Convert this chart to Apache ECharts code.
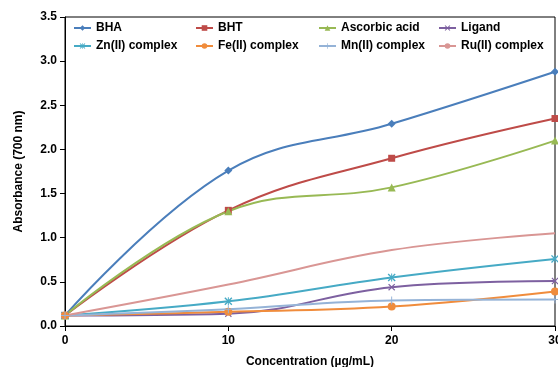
<!DOCTYPE html>
<html>
<head>
<meta charset="utf-8">
<script src="https://cdn.jsdelivr.net/npm/echarts@6/dist/echarts.min.js"></script>
<style>
  html, body { margin: 0; padding: 0; background: #fff; }
  #chart { width: 558px; height: 367px; }
</style>
</head>
<body>
<div id="chart"></div>
<script>
// concentrations (µg/mL)
const concentrations = [0, 10, 20, 30];
const yTicks = [0, 0.5, 1.0, 1.5, 2.0, 2.5, 3.0, 3.5];

// absorbance at 700 nm
const bha = [0.12, 1.76, 2.29, 2.88];
const bht = [0.12, 1.31, 1.90, 2.35];
const ascorbic = [0.12, 1.30, 1.57, 2.10];
const ligand = [0.12, 0.14, 0.44, 0.51];
const znComplex = [0.12, 0.28, 0.55, 0.76];
const feComplex = [0.12, 0.16, 0.22, 0.39];
const mnComplex = [0.12, 0.19, 0.29, 0.30];
const ruComplex = [0.12, 0.47, 0.86, 1.05];

const FONT = '"Liberation Sans", Arial, sans-serif';

// marker shapes
const xMark = 'path://M0,1.2L1.2,0L5,3.8L8.8,0L10,1.2L6.2,5L10,8.8L8.8,10L5,6.2L1.2,10L0,8.8L3.8,5Z';
const starMark = 'path://M0,1.2L1.2,0L4.4,3.2V0H5.6V3.2L8.8,0L10,1.2L6.2,5L10,8.8L8.8,10L5.6,6.8V10H4.4V6.8L1.2,10L0,8.8L3.8,5Z';
const plusMark = 'path://M4.4,0H5.6V4.4H10V5.6H5.6V10H4.4V5.6H0V4.4H4.4Z';

const seriesDefs = [
  { name: 'BHA', data: bha, color: '#4A7EBB', symbol: 'diamond', size: 8 },
  { name: 'BHT', data: bht, color: '#BE4B48', symbol: 'rect', size: 7 },
  { name: 'Ascorbic acid', data: ascorbic, color: '#98B954', symbol: 'triangle', size: 8 },
  { name: 'Ligand', data: ligand, color: '#7D60A0', symbol: xMark, size: 7 },
  { name: 'Zn(II) complex', data: znComplex, color: '#46AAC5', symbol: starMark, size: 8 },
  { name: 'Fe(II) complex', data: feComplex, color: '#F08C3C', symbol: 'circle', size: 8 },
  { name: 'Mn(II) complex', data: mnComplex, color: '#95B3D7', symbol: plusMark, size: 8 },
  { name: 'Ru(II) complex', data: ruComplex, color: '#D99694', symbol: 'none', size: 0 }
];

// legend slots: 4 columns x 2 rows
const legendCols = [73, 195, 318, 438];
const legendRows = [22, 40];

const chart = echarts.init(document.getElementById('chart'));

const option = {
  animation: false,
  backgroundColor: '#fff',
  grid: {
    left: 65, right: 3, top: 17, bottom: 41,
    outerBoundsMode: 'none',
    containLabel: false,
    show: true, borderColor: '#000', borderWidth: 1
  },
  legend: seriesDefs.map((s, i) => ({
    left: legendCols[i % 4],
    top: legendRows[Math.floor(i / 4)],
    padding: 0,
    itemWidth: 17,
    itemHeight: 7,
    itemGap: 0,
    selectedMode: false,
    data: [s.name],
    textStyle: { fontFamily: FONT, fontWeight: 'bold', fontSize: 12, color: '#000' }
  })),
  xAxis: {
    type: 'value',
    min: 0, max: 30, interval: 10,
    name: 'Concentration (µg/mL)',
    nameLocation: 'middle',
    nameGap: 30,
    nameTextStyle: { fontFamily: FONT, fontWeight: 'bold', fontSize: 12, color: '#000' },
    axisLine: { lineStyle: { color: '#000', width: 1 } },
    axisTick: { show: true, length: 5, lineStyle: { color: '#000' } },
    axisLabel: { fontFamily: FONT, fontWeight: 'bold', fontSize: 12, color: '#000', margin: 9 },
    splitLine: { show: false }
  },
  yAxis: {
    type: 'value',
    min: 0, max: 3.5, interval: 0.5,
    name: 'Absorbance (700 nm)',
    nameLocation: 'middle',
    nameGap: 40,
    nameTextStyle: { fontFamily: FONT, fontWeight: 'bold', fontSize: 12, color: '#000' },
    axisLine: { show: true, lineStyle: { color: '#000', width: 1 } },
    axisTick: { show: true, length: 5, lineStyle: { color: '#000' } },
    axisLabel: {
      fontFamily: FONT, fontWeight: 'bold', fontSize: 12, color: '#000', margin: 8,
      formatter: v => yTicks.includes(v) ? v.toFixed(1) : ''
    },
    splitLine: { show: false }
  },
  series: seriesDefs.map(s => ({
    name: s.name,
    type: 'line',
    smooth: 0.4,
    data: concentrations.map((c, i) => [c, s.data[i]]),
    symbol: s.symbol,
    symbolSize: s.size,
    showSymbol: s.symbol !== 'none',
    clip: false,
    itemStyle: { color: s.color },
    lineStyle: { color: s.color, width: 2 }
  }))
};

chart.setOption(option);
</script>
</body>
</html>
